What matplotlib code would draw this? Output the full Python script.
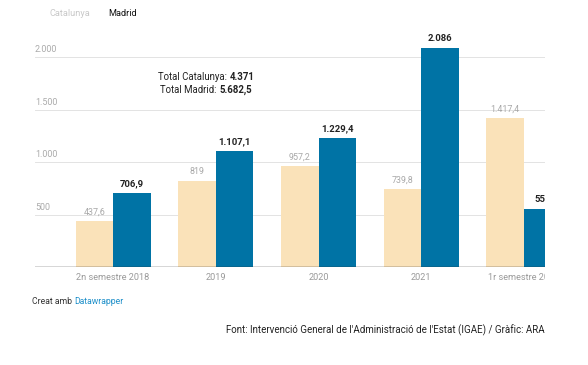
import numpy as np
import matplotlib
matplotlib.use('Agg')
import matplotlib.pyplot as plt
from matplotlib.transforms import Bbox

plt.rcParams['font.family'] = ['Roboto', 'DejaVu Sans']

# data
categories = ["2n semestre 2018", "2019", "2020", "2021", "1r semestre 2022"]
catalunya = [437.6, 819, 957.2, 739.8, 1417.4]
madrid = [706.9, 1107.1, 1229.4, 2086, 553]
catalunya_labels = ["437,6", "819", "957,2", "739,8", "1.417,4"]
madrid_labels = ["706,9", "1.107,1", "1.229,4", "2.086", "553"]
yticks = [500, 1000, 1500, 2000]
ytick_labels = ["500", "1.000", "1.500", "2.000"]

col_cat = "#fae2b9"
col_mad = "#0073a5"
grey = "#9a9a9a"

fig = plt.figure(figsize=(5.88, 3.65), dpi=100)
ax = fig.add_axes([35 / 588, 1 - 267 / 365, 510 / 588, 231 / 365])
clip = Bbox.from_extents(0, 0, 545, 365)  # chart is cut at the right edge

x = np.arange(len(categories))
w = 0.365
ax.bar(x - w / 2, catalunya, w, color=col_cat, zorder=2)
ax.bar(x + w / 2, madrid, w, color=col_mad, zorder=2)

for xi, v, lab in zip(x, catalunya, catalunya_labels):
    t = ax.text(xi - w / 2, v + 45, lab, ha="center", va="bottom", fontsize=6.4,
                color="#a8a8a8")
    t.set_clip_box(clip)
    t.set_clip_on(True)
for xi, v, lab in zip(x, madrid, madrid_labels):
    t = ax.text(xi + w / 2, v + 45, lab, ha="center", va="bottom", fontsize=6.8,
                color="#222222", fontweight="bold")
    t.set_clip_box(clip)
    t.set_clip_on(True)

ax.set_xlim(-0.76, 4.205)
ax.set_ylim(0, 2200)
for yt, lab in zip(yticks, ytick_labels):
    ax.axhline(yt, color="#e3e3e3", lw=0.7, zorder=1)
    ax.text(0.0, yt + 25, lab, transform=ax.get_yaxis_transform(),
            ha="left", va="bottom", fontsize=6.4, color="#aaaaaa")
ax.axhline(0, color="#333333", lw=1.0, zorder=3)

for s in ax.spines.values():
    s.set_visible(False)
ax.set_yticks([])
ax.set_xticks(x)
ax.set_xticklabels(categories, fontsize=6.6, color=grey)
ax.tick_params(axis="x", length=0, pad=4)
for t in ax.get_xticklabels():
    t.set_clip_on(True)
    t.set_clip_box(clip)

renderer = fig.canvas.get_renderer()


def two_part(xc, y, plain, bold, size, color="#222222"):
    # centred line with a regular part followed by a bold part
    a = fig.text(0, 0, plain, fontsize=size, color=color)
    b = fig.text(0, 0, bold, fontsize=size, color=color, fontweight="bold")
    wa = a.get_window_extent(renderer).width
    wb = b.get_window_extent(renderer).width
    x0 = xc - (wa + wb) / 2
    a.set_position((x0 / 588, 1 - y / 365))
    b.set_position(((x0 + wa) / 588, 1 - y / 365))
    a.set_va("center")
    b.set_va("center")


# totals annotation
two_part(206, 77, "Total Catalunya: ", "4.371", 6.9)
two_part(206, 90, "Total Madrid: ", "5.682,5", 6.9)

# legend
fig.text(49 / 588, 1 - 13 / 365, "Catalunya", fontsize=6.6, color="#c8c8c8", va="center")
fig.text(108 / 588, 1 - 13 / 365, "Madrid", fontsize=6.6, color="#111111", va="center")

# footer
c1 = fig.text(32 / 588, 1 - 301 / 365, "Creat amb ", fontsize=6.2, color="#333333", va="center")
wc = c1.get_window_extent(renderer).width
fig.text((32 + wc) / 588, 1 - 301 / 365, "Datawrapper", fontsize=6.2, color="#1d8fc9", va="center")
fig.text(545 / 588, 1 - 330 / 365,
         "Font: Intervenció General de l'Administració de l'Estat (IGAE) / Gràfic: ARA",
         fontsize=7.0, color="#222222", ha="right", va="center")

fig.savefig("out.png", dpi=100)
